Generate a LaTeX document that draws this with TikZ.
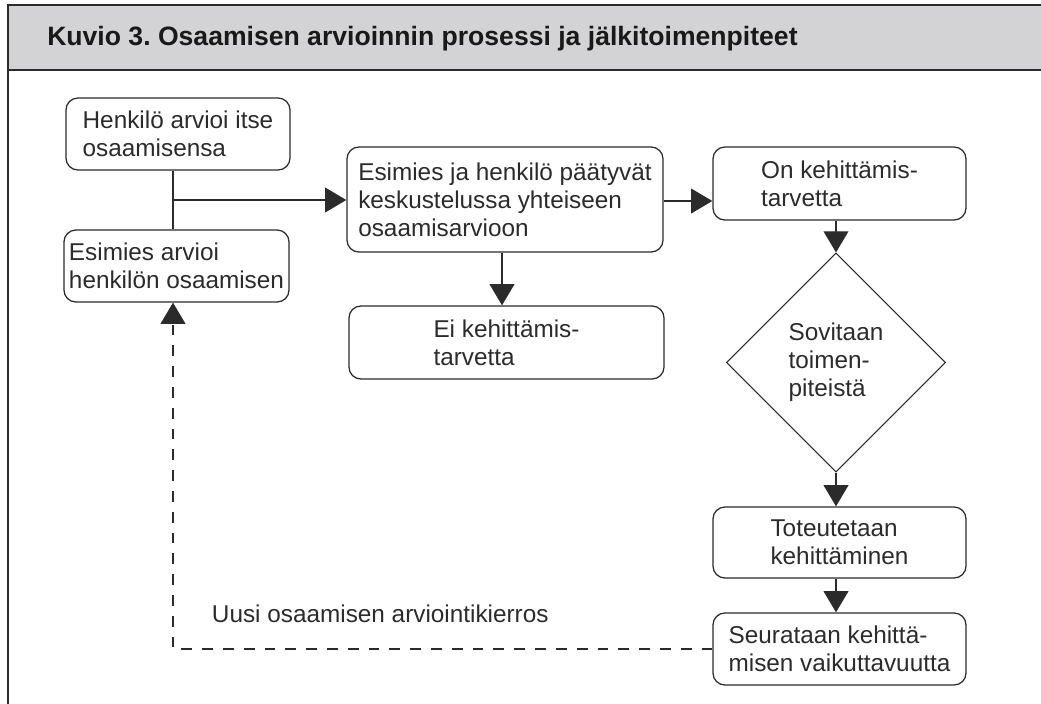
\documentclass[tikz,border=0pt]{standalone}
\usepackage{fontspec}
\setmainfont{Liberation Sans}
\usetikzlibrary{shapes.geometric,arrows.meta}
\definecolor{viiva}{HTML}{2B2B2B}
\definecolor{otsake}{HTML}{D3D3D5}

\begin{document}
\begin{tikzpicture}[x=0.025cm,y=-0.025cm,
	font=\fontsize{17.3}{20}\selectfont, text=viiva,
	laatikko/.style={draw=viiva, line width=0.9pt, rounded corners=0.3cm, align=left, inner sep=2pt, minimum height=1.8cm},
	valinta/.style={draw=viiva, line width=0.7pt, diamond, aspect=1, align=left, inner sep=0pt, minimum width=5.475cm, minimum height=5.475cm},
	nuoli/.style={draw=viiva, line width=0.9pt, -{Triangle[length=0.53cm, width=0.62cm]}},
	katko/.style={nuoli, dash pattern=on 0.27cm off 0.25cm}]
	\useasboundingbox (0,0) rectangle (1041,704);
	\fill[otsake] (8,5) rectangle (1041,70);
	\draw[viiva, line width=1pt] (1041,5) -- (8,5) -- (8,704);
	\draw[viiva, line width=1pt] (8,70) -- (1041,70);
	\node[anchor=base west, inner sep=0pt, font=\fontsize{18.9}{22}\selectfont\bfseries, text=black!90] (otsikko) at (47,45) {Kuvio 3.\ Osaamisen arvioinnin prosessi ja jälkitoimenpiteet};

	\node[laatikko, minimum width=5.6cm] (itse) at (178,134) {Henkilö arvioi itse\\osaamisensa};
	\node[laatikko, minimum width=5.625cm] (esimies) at (176.5,266) {Esimies arvioi\\henkilön osaamisen};
	\node[laatikko, minimum width=7.9cm, minimum height=2.625cm] (yhteinen) at (505,199.5) {Esimies ja henkilö päätyvät\\keskustelussa yhteiseen\\osaamisarvioon};
	\node[laatikko, minimum width=7.875cm, minimum height=1.825cm] (eitarve) at (506.5,342.5) {Ei kehittämis-\\tarvetta};
	\node[laatikko, minimum width=6.325cm, minimum height=1.825cm] (ontarve) at (839.5,183.5) {On kehittämis-\\tarvetta};
	\node[valinta] (sovitaan) at (836,362.5) {Sovitaan\\toimen-\\piteistä};
	\node[laatikko, minimum width=6.325cm, minimum height=1.775cm] (toteutus) at (839.5,542.5) {Toteutetaan\\kehittäminen};
	\node[laatikko, minimum width=6.325cm] (seuranta) at (839.5,649) {Seurataan kehittä-\\misen vaikuttavuutta};
	\node[anchor=base west] (uusi) at (207,622) {Uusi osaamisen arviointikierros};

	\coordinate (haara) at (173,200);
	\draw[draw=viiva, line width=0.9pt] (itse.south -| haara) -- (esimies.north -| haara);
	\draw[nuoli] (haara) -- (haara -| yhteinen.west);
	\draw[nuoli] (yhteinen.east |- 0,201) -- (ontarve.west |- 0,201);
	\draw[nuoli] (yhteinen.south -| 502,0) -- (eitarve.north -| 502,0);
	\draw[nuoli] (ontarve.south -| sovitaan.north) -- (sovitaan.north);
	\draw[nuoli] (sovitaan.south) -- (sovitaan.south |- toteutus.north);
	\draw[nuoli] (toteutus.south -| sovitaan.south) -- (seuranta.north -| sovitaan.south);
	\draw[katko] (seuranta.west) -| (haara |- esimies.south);
\end{tikzpicture}
\end{document}
